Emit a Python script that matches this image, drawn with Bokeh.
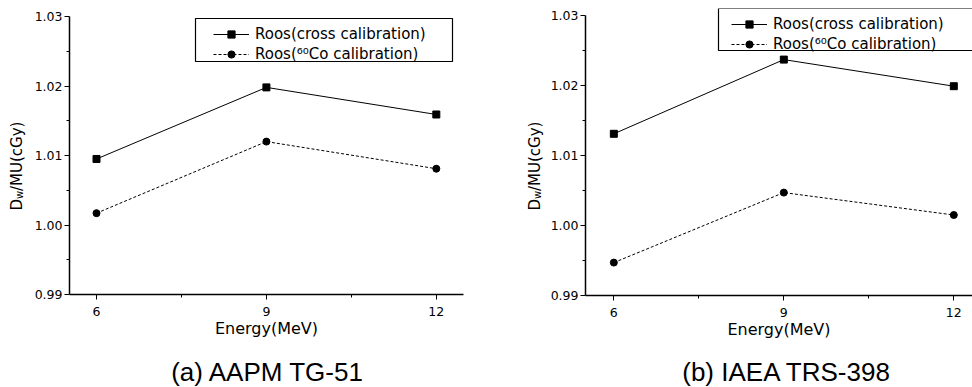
import math
from bokeh.plotting import figure
from bokeh.models import (Range1d, FixedTicker, NumeralTickFormatter, Legend,
                          LegendItem, Label, BoxAnnotation)
from bokeh.layouts import row, column
from bokeh.embed import file_html
from bokeh.resources import INLINE

# ---- data ----
energy = [6, 9, 12]
tg51_cross = [1.0095, 1.0198, 1.0159]
tg51_co60 = [1.0017, 1.0120, 1.0081]
trs398_cross = [1.0131, 1.0237, 1.0199]
trs398_co60 = [0.9947, 1.0047, 1.0015]

x_ticks = [6, 9, 12]
x_minor = [7.5, 10.5]
y_ticks = [0.99, 1.00, 1.01, 1.02, 1.03]
y_minor = [0.995, 1.005, 1.015, 1.025]

label_cross = "Roos(cross calibration)"
label_co = "Roos(\u2076\u2070Co calibration)"
x_title = "Energy(MeV)"
y_title = ["D", "w", "/MU(cGy)"]
captions = ["(a) AAPM TG-51", "(b) IAEA TRS-398"]

FONT = "DejaVu Sans"
MAIN_H = 345


def blank_fig(width, height):
    f = figure(width=width, height=height, output_backend="svg", toolbar_location=None,
               x_axis_type=None, y_axis_type=None, min_border=0,
               x_range=Range1d(0, 1), y_range=Range1d(0, 1))
    f.outline_line_color = None
    f.xgrid.visible = False
    f.ygrid.visible = False
    return f


def ylabel_fig(width, base_x):
    f = blank_fig(width, 387)
    base_y = 177
    f.add_layout(Label(x=base_x, y=base_y, x_units="screen", y_units="screen",
                       text=y_title[0], angle=math.pi / 2, text_font=FONT,
                       text_font_size="15px", text_align="left",
                       text_baseline="alphabetic", text_color="black"))
    f.add_layout(Label(x=base_x + 3, y=base_y + 11.6, x_units="screen", y_units="screen",
                       text=y_title[1], angle=math.pi / 2, text_font=FONT,
                       text_font_size="10px", text_align="left",
                       text_baseline="alphabetic", text_color="black"))
    f.add_layout(Label(x=base_x, y=base_y + 19.5, x_units="screen", y_units="screen",
                       text=y_title[2], angle=math.pi / 2, text_font=FONT,
                       text_font_size="15px", text_align="left",
                       text_baseline="alphabetic", text_color="black"))
    return f


def caption_fig(width, text, cx):
    f = blank_fig(width, 387 - MAIN_H)
    f.add_layout(Label(x=cx, y=16, x_units="screen", y_units="screen",
                       text=text, text_font="Liberation Sans",
                       text_font_size="26px", text_align="center",
                       text_baseline="alphabetic", text_color="black"))
    return f


def make_panel(cross, co, width, x_range, y_end, borders, legend_pos, box):
    bl, br, bt, bb = borders
    p = figure(width=width, height=MAIN_H, output_backend="svg", toolbar_location=None,
               x_range=Range1d(*x_range), y_range=Range1d(0.99, y_end),
               min_border_left=bl, min_border_right=br, min_border_top=bt,
               min_border_bottom=bb)
    p.outline_line_color = None
    p.xgrid.visible = False
    p.ygrid.visible = False
    p.background_fill_color = "white"
    p.border_fill_color = "white"

    for ax in (p.xaxis[0], p.yaxis[0]):
        ax.axis_line_width = 1.5
        ax.axis_line_color = "black"
        ax.major_tick_line_color = "black"
        ax.minor_tick_line_color = "black"
        ax.major_tick_in = 0
        ax.major_tick_out = 5
        ax.minor_tick_in = 0
        ax.minor_tick_out = 3
        ax.major_label_text_font = FONT
        ax.major_label_text_font_size = "12.5px"
        ax.major_label_text_color = "black"

    p.xaxis.ticker = FixedTicker(ticks=x_ticks, minor_ticks=x_minor)
    p.yaxis.ticker = FixedTicker(ticks=y_ticks, minor_ticks=y_minor)
    p.yaxis.bounds = (y_ticks[0], y_ticks[-1])
    p.yaxis.formatter = NumeralTickFormatter(format="0.00")
    p.yaxis.major_label_standoff = 2
    p.xaxis.major_label_standoff = 7
    p.xaxis.axis_label = x_title
    p.xaxis.axis_label_text_font = FONT
    p.xaxis.axis_label_text_font_size = "16px"
    p.xaxis.axis_label_text_font_style = "normal"
    p.xaxis.axis_label_text_color = "black"
    p.xaxis.axis_label_standoff = 0

    r1 = p.line(energy, cross, line_color="black", line_width=1)
    s1 = p.scatter(energy, cross, marker="square", size=7, fill_color="black", line_color="black")
    r2 = p.line(energy, co, line_color="black", line_width=1, line_dash="3 2")
    s2 = p.scatter(energy, co, marker="circle", size=7, fill_color="black", line_color="black")

    bx_l, bx_r, bx_t, bx_b = box
    p.add_layout(BoxAnnotation(left=bx_l, right=bx_r, top=bx_t, bottom=bx_b,
                               left_units="screen", right_units="screen",
                               top_units="screen", bottom_units="screen",
                               fill_alpha=0, line_color="black", line_alpha=1,
                               line_width=1.2, level="overlay"))
    legend = Legend(items=[LegendItem(label=label_cross, renderers=[r1, s1]),
                           LegendItem(label=label_co, renderers=[r2, s2])],
                    location=legend_pos, glyph_width=36, glyph_height=18,
                    label_height=18, label_standoff=6, padding=2, spacing=2,
                    margin=0, border_line_color=None, background_fill_alpha=0,
                    label_text_font=FONT, label_text_font_size="15px",
                    label_text_color="black")
    p.add_layout(legend)
    return p


# left block: canvas x 0..480 ; frame x 69..463, y 16..294
yl1 = ylabel_fig(30, 16)
p1 = make_panel(tg51_cross, tg51_co60, 450, (5.523, 12.48), 1.03,
                (39, 17, 16, MAIN_H - 294), (144, 231), (126, 383, 276, 233))
# caption frame is aligned with the plot frame above it (left edge at x=69)
c1 = caption_fig(450, captions[0], 198.5)

# right block: canvas x 480..972 ; frame x 585..972, y 8..295 (1.03 at 15)
yl2 = ylabel_fig(65, 54)
p2 = make_panel(trs398_cross, trs398_co60, 427, (5.50, 12.33), 1.031,
                (40, 0, 8, MAIN_H - 295), (146, 242), (133, 420, 287, 245))
c2 = caption_fig(427, captions[1], 201.5)

layout = row(row(yl1, column(p1, c1)), row(yl2, column(p2, c2)))
with open("out.html", "w") as f:
    f.write(file_html(layout, INLINE))
